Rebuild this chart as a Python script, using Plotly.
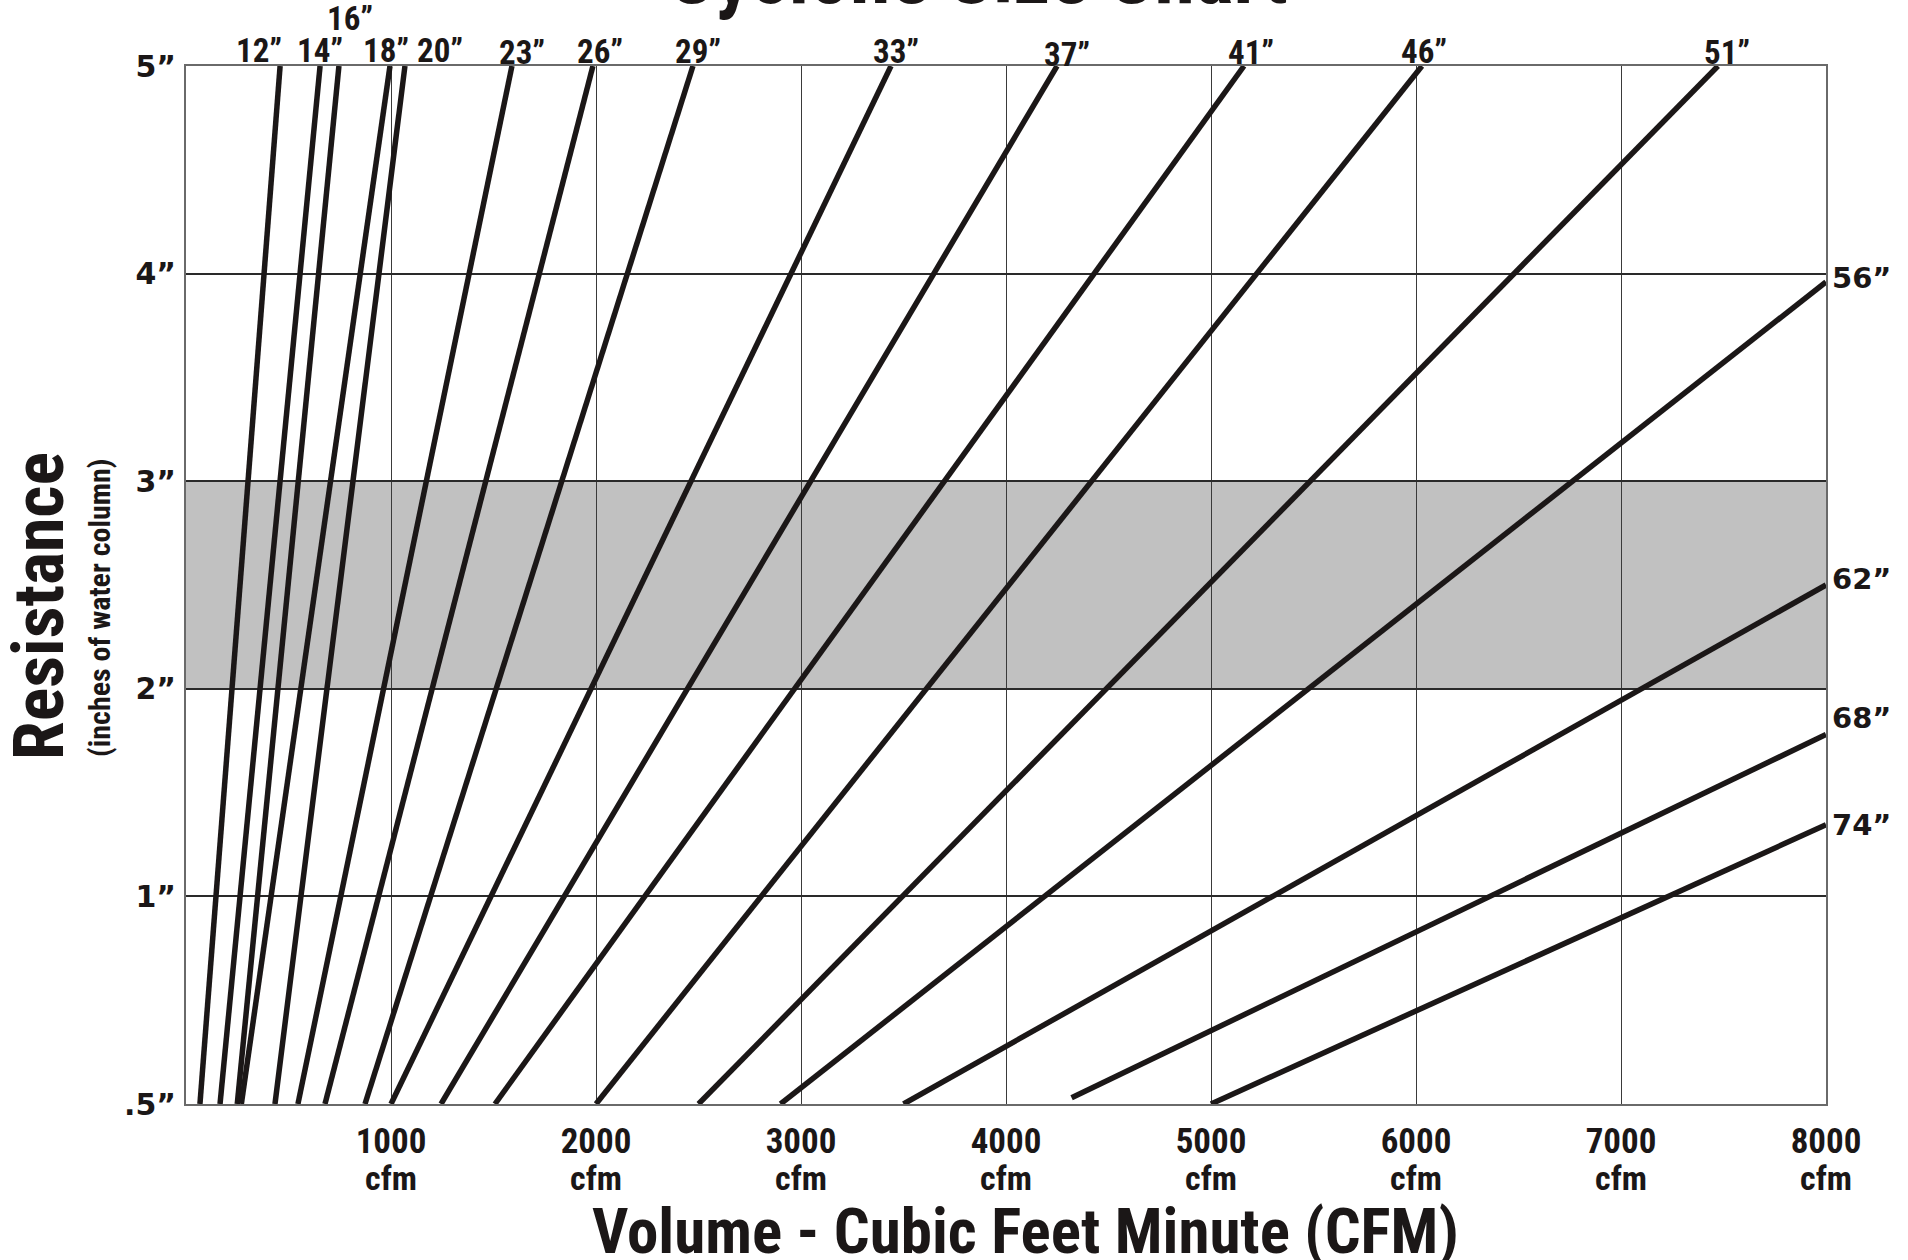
import plotly.graph_objects as go

# ---------------- data ----------------
sizes = ["12”", "14”", "16”", "18”", "20”", "23”", "26”", "29”", "33”",
         "37”", "41”", "46”", "51”", "56”", "62”", "68”", "74”"]
# start point of each cyclone line (cfm, resistance in inches w.c.)
start_cfm = [68, 166, 250, 270, 434, 546, 678, 873, 1000,
             1244, 1507, 2000, 2500, 2900, 3500, 4320, 5000]
start_res = [0.5, 0.5, 0.5, 0.5, 0.5, 0.5, 0.5, 0.5, 0.5,
             0.5, 0.5, 0.5, 0.5, 0.5, 0.5, 0.515, 0.5]
# end point of each cyclone line
end_cfm = [459, 654, 746, 995, 1068, 1590, 1985, 2473, 3439,
           4249, 5161, 6029, 7473, 8000, 8000, 8000, 8000]
end_res = [5, 5, 5, 5, 5, 5, 5, 5, 5,
           5, 5, 5, 5, 3.96, 2.50, 1.78, 1.345]

res_ticks = [0.5, 1, 2, 3, 4, 5]
res_tick_text = [".5”", "1”", "2”", "3”", "4”", "5”"]
cfm_ticks = [1000, 2000, 3000, 4000, 5000, 6000, 7000, 8000]
cfm_tick_text = [str(v) for v in cfm_ticks]
cfm_unit = "cfm"
recommended_band = (2, 3)

# label nudges (pixels) – layout only
top_dx = [-21, 0, 11, -4, 35, 10, 7, 5, 5, 10, 7, 2, 9]
top_dy = [16, 16, 48, 16, 16, 14, 15, 15, 15, 12, 14, 15, 14]
right_dy = [4, 6, 16, 0]


def pos(r):
    """Chart's resistance scale: .5" to 1" takes one division, then one per inch."""
    return (r - 0.5) / 0.5 if r < 1 else r


NARROW = "Liberation Sans Narrow, Arial Narrow, Roboto Condensed, DejaVu Sans Condensed, sans-serif"
WIDE = "DejaVu Sans, Arial Black, sans-serif"
INK = "#1b1717"

fig = go.Figure()

for i, name in enumerate(sizes):
    fig.add_trace(go.Scatter(
        x=[start_cfm[i], end_cfm[i]],
        y=[pos(start_res[i]), pos(end_res[i])],
        mode="lines",
        line=dict(color=INK, width=5.5),
        name=name,
        showlegend=False,
        hoverinfo="skip",
    ))

# recommended resistance band
fig.add_shape(type="rect", xref="x", yref="y",
              x0=0, x1=8000, y0=pos(recommended_band[0]), y1=pos(recommended_band[1]),
              fillcolor="#c1c1c1", line_width=0, layer="below")

annotations = []
n_top = 13
for i in range(n_top):
    annotations.append(dict(
        x=end_cfm[i], y=pos(end_res[i]), xref="x", yref="y",
        text=f"<b>{sizes[i]}</b>", showarrow=False,
        xanchor="center", yanchor="middle",
        xshift=top_dx[i], yshift=top_dy[i],
        font=dict(family=NARROW, size=33, color=INK),
    ))
for k, i in enumerate(range(n_top, len(sizes))):
    annotations.append(dict(
        x=end_cfm[i], y=pos(end_res[i]), xref="x", yref="y",
        text=f"<b>{sizes[i]}</b>", showarrow=False,
        xanchor="left", yanchor="middle",
        xshift=4, yshift=right_dy[k],
        font=dict(family=WIDE, size=29, color=INK),
    ))
# unit line under each cfm tick label
for v in cfm_ticks:
    annotations.append(dict(
        x=v, y=-0.0715, xref="x", yref="paper",
        text=f"<b>{cfm_unit}</b>", showarrow=False,
        xanchor="center", yanchor="middle",
        font=dict(family=NARROW, size=34, color=INK),
    ))

# titles
annotations.append(dict(
    x=0.483, y=1.088, xref="paper", yref="paper",
    text="<b>Cyclone Size Chart</b>", showarrow=False,
    xanchor="center", yanchor="middle",
    font=dict(family=NARROW, size=82, color=INK),
))
annotations.append(dict(
    x=0.512, y=-0.1233, xref="paper", yref="paper",
    text="<b>Volume - Cubic Feet Minute (CFM)</b>", showarrow=False,
    xanchor="center", yanchor="middle",
    font=dict(family=NARROW, size=63, color=INK),
))
annotations.append(dict(
    x=-0.0895, y=0.48, xref="paper", yref="paper",
    text="<b>Resistance</b>", showarrow=False, textangle=-90,
    xanchor="center", yanchor="middle",
    font=dict(family=NARROW, size=70, color=INK),
))
annotations.append(dict(
    x=-0.0524, y=0.478, xref="paper", yref="paper",
    text="<b>(inches of water column)</b>", showarrow=False, textangle=-90,
    xanchor="center", yanchor="middle",
    font=dict(family=NARROW, size=30, color=INK),
))

fig.update_layout(
    width=1908, height=1260,
    margin=dict(l=186, r=82, t=66, b=156),
    paper_bgcolor="white", plot_bgcolor="white",
    annotations=annotations,
    showlegend=False,
)

fig.update_xaxes(
    range=[0, 8000], tickvals=cfm_ticks, ticktext=cfm_tick_text,
    showgrid=True, gridcolor="#3a3a3a", gridwidth=1,
    showline=True, linecolor="#6a6a6a", linewidth=2, mirror=True,
    zeroline=False, ticks="", ticklabelstandoff=5,
    tickfont=dict(family=NARROW, size=35, color=INK, weight="bold"),
    fixedrange=True,
)
fig.update_yaxes(
    range=[0, 5], tickvals=[pos(r) for r in res_ticks], ticktext=res_tick_text,
    showgrid=True, gridcolor="#2a2a2a", gridwidth=1.5,
    showline=True, linecolor="#6a6a6a", linewidth=2, mirror=True,
    zeroline=False, ticks="", ticklabelstandoff=2,
    tickfont=dict(family=WIDE, size=30, color=INK, weight="bold"),
    fixedrange=True,
)

fig.write_html("out.html", config={"displayModeBar": False},
               post_script="document.body.style.margin='0';")
